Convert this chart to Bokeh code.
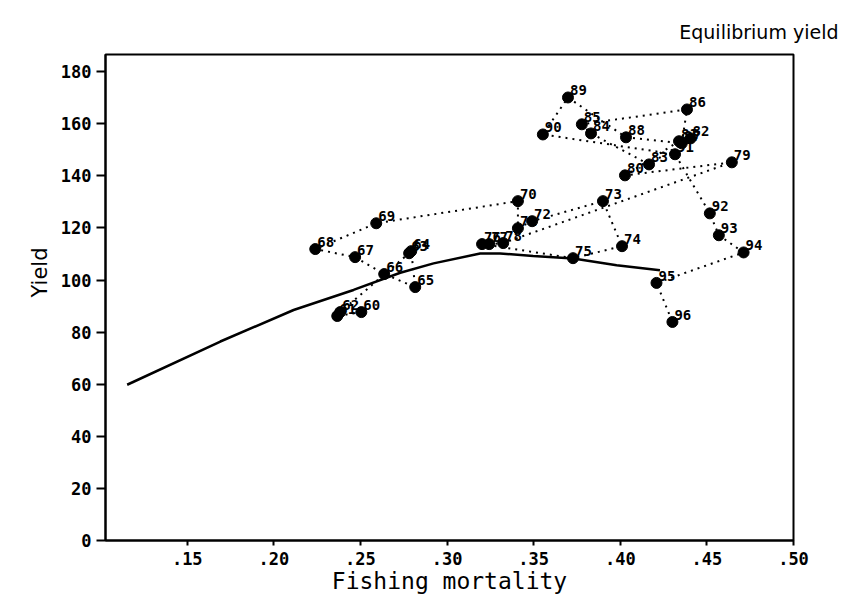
from bokeh.plotting import figure
from bokeh.models import Range1d, FixedTicker, ColumnDataSource, Title
from bokeh.embed import file_html
from bokeh.resources import INLINE
from bokeh.core.properties import value

# ---- data ----
years = ["60", "61", "62", "63", "64", "65", "66", "67", "68", "69",
         "70", "71", "72", "73", "74", "75", "76", "77", "78", "79",
         "80", "81", "82", "83", "84", "85", "86", "87", "88", "89",
         "90", "91", "92", "93", "94", "95", "96"]
fishing_mortality = [0.2505, 0.2366, 0.2383, 0.2781, 0.2793, 0.2816, 0.2637, 0.2469, 0.2239, 0.2591,
                     0.3409, 0.3409, 0.3491, 0.3900, 0.4010, 0.3727, 0.3202, 0.3243, 0.3324, 0.4644,
                     0.4027, 0.4339, 0.4406, 0.4166, 0.3831, 0.3778, 0.4385, 0.4355, 0.4033, 0.3698,
                     0.3553, 0.4316, 0.4517, 0.4569, 0.4712, 0.4209, 0.4301]
yield_obs = [87.7, 86.2, 87.7, 110.3, 111.1, 97.3, 102.3, 108.8, 111.9, 121.8,
             130.3, 119.9, 122.6, 130.3, 113.0, 108.4, 113.8, 113.8, 114.2, 145.2,
             140.2, 153.3, 154.4, 144.4, 156.3, 159.8, 165.5, 152.5, 154.8, 170.1,
             155.9, 148.3, 125.6, 117.2, 110.6, 98.9, 83.9]

eq_mortality = [0.1153, 0.1691, 0.2114, 0.2460, 0.2730, 0.2922, 0.3191, 0.3306,
                0.3497, 0.3729, 0.3979, 0.4229]
eq_yield = [59.8, 76.4, 88.5, 96.2, 102.8, 106.4, 110.2, 110.2,
            109.2, 108.3, 105.7, 103.8]

x_ticks = [0.15, 0.20, 0.25, 0.30, 0.35, 0.40, 0.45, 0.50]
x_tick_labels = [".15", ".20", ".25", ".30", ".35", ".40", ".45", ".50"]
y_ticks = [0, 20, 40, 60, 80, 100, 120, 140, 160, 180]

title_text = "Equilibrium yield"
x_label = "Fishing mortality"
y_label = "Yield"

# ---- figure ----
p = figure(width=838, height=596, output_backend="svg", toolbar_location=None,
           x_range=Range1d(0.1028, 0.5), y_range=Range1d(0, 186.6),
           min_border_left=105, min_border_right=45, min_border_top=54,
           min_border_bottom=55)
p.background_fill_color = "white"
p.border_fill_color = "white"
p.outline_line_color = "black"
p.outline_line_width = 2
p.outline_line_alpha = 1.0
p.xgrid.visible = False
p.ygrid.visible = False

p.title.text = title_text
p.title.align = "right"
p.title.offset = -45
p.title.text_font = "DejaVu Sans"
p.title.text_font_size = "19px"
p.title.text_font_style = "normal"
p.title.text_color = "black"
p.title.standoff = 24

mono = "DejaVu Sans Mono"

xa = p.xaxis[0]
xa.ticker = FixedTicker(ticks=x_ticks)
xa.major_label_overrides = dict(zip(x_ticks, x_tick_labels))
xa.axis_label = x_label
xa.axis_label_text_font = mono
xa.axis_label_text_font_size = "23px"
xa.axis_label_text_font_style = "normal"
xa.axis_label_text_color = "black"
xa.axis_label_standoff = 0
xa.major_label_text_font = mono
xa.major_label_text_font_size = "17px"
xa.major_label_text_font_style = "bold"
xa.major_label_text_color = "black"
xa.major_label_standoff = 6
xa.major_tick_in = 0
xa.major_tick_out = 5
xa.minor_tick_line_color = None
xa.axis_line_width = 2
xa.major_tick_line_width = 2

ya = p.yaxis[0]
ya.ticker = FixedTicker(ticks=y_ticks)
ya.major_label_text_font = mono
ya.major_label_text_font_size = "17px"
ya.major_label_text_font_style = "bold"
ya.major_label_text_color = "black"
ya.major_label_standoff = 5
ya.major_tick_in = 0
ya.major_tick_out = 9
ya.minor_tick_line_color = None
ya.axis_line_width = 2
ya.major_tick_line_width = 2

# y-axis caption, sitting a little above the middle of the axis as in the reference
p.add_layout(Title(text=y_label, align="right", offset=193, standoff=12,
                   text_font="DejaVu Sans", text_font_size="21px",
                   text_font_style="normal", text_color="black"), "left")

src = ColumnDataSource(data=dict(f=fishing_mortality, y=yield_obs, yr=years))

# equilibrium curve
p.line(eq_mortality, eq_yield, line_color="black", line_width=2.5)
# chronological dotted path
p.line("f", "y", source=src, line_color="black", line_width=2, line_dash="2 5")
# points
p.scatter("f", "y", source=src, size=11, fill_color="black", line_color="black")
# year labels
p.text("f", "y", text="yr", source=src, x_offset=2, y_offset=-7,
       text_font=value(mono), text_font_style="bold", text_font_size="14px",
       text_baseline="alphabetic", text_color="black")

open("out.html", "w").write(file_html(p, INLINE))
